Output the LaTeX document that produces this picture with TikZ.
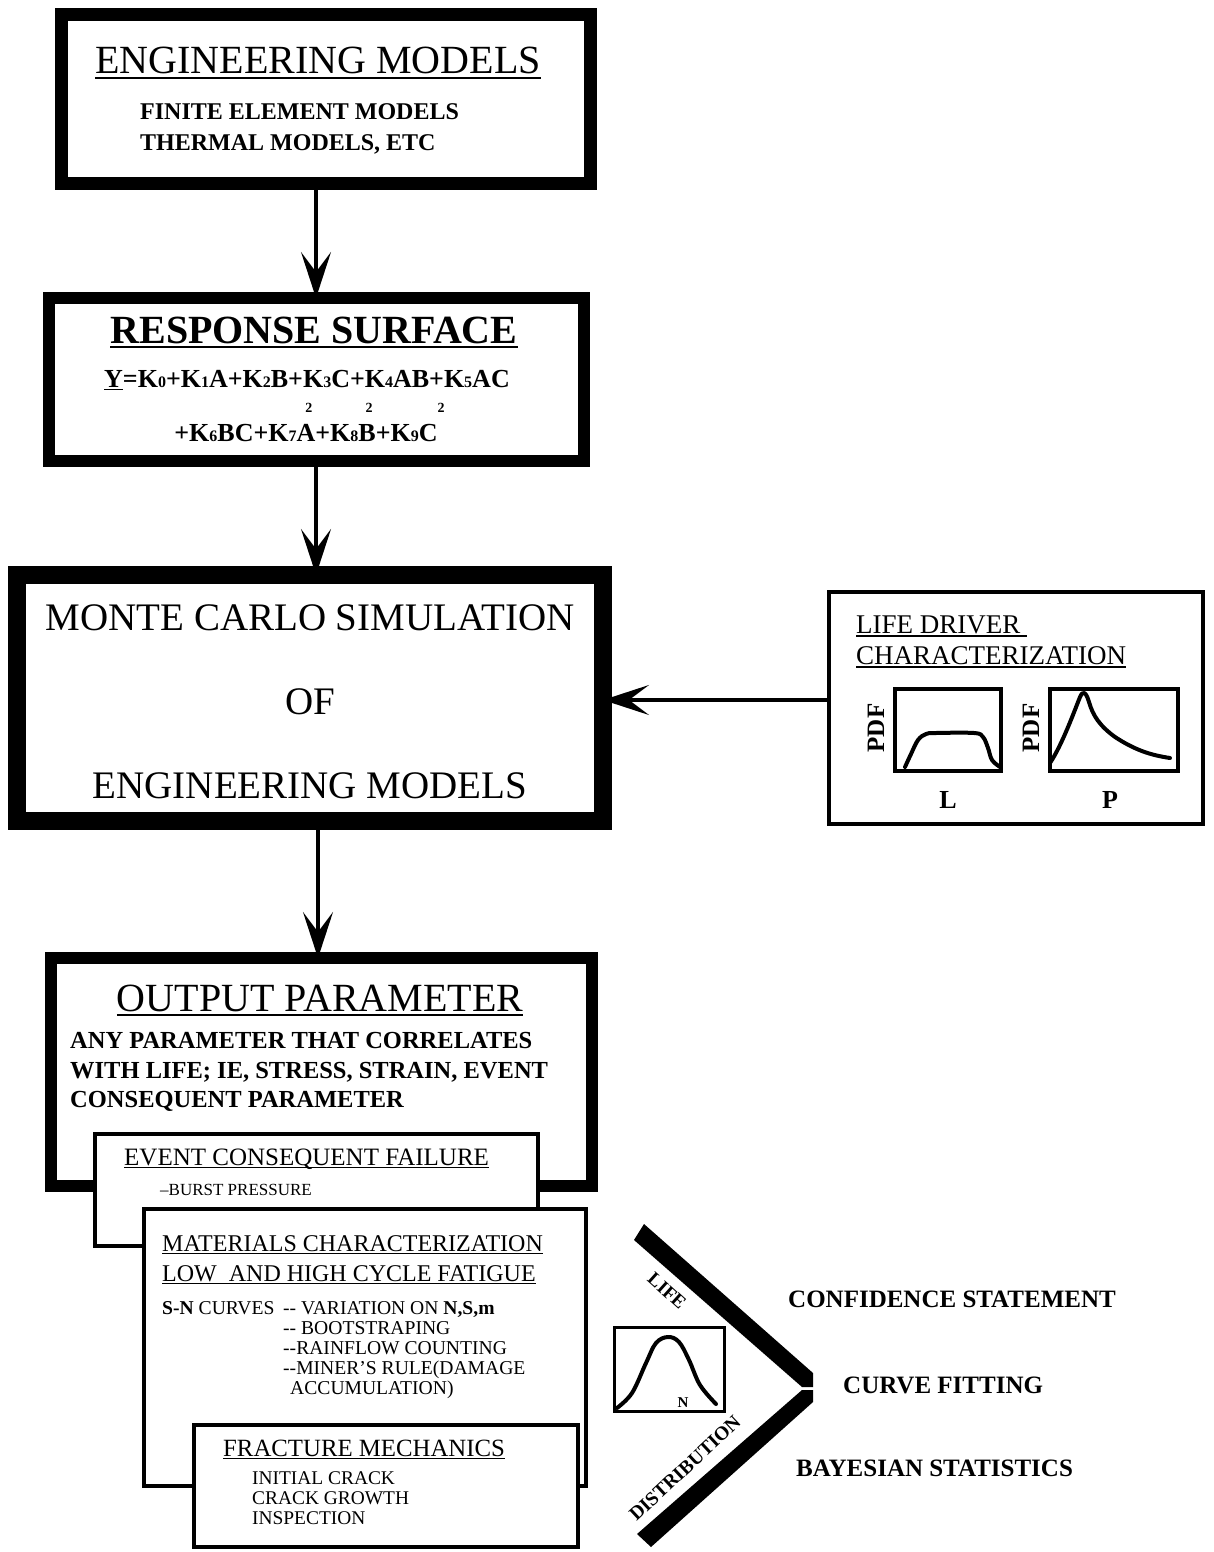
\documentclass[tikz,border=0pt]{standalone}
\usepackage{fontspec}
\setmainfont{Liberation Serif}
\usetikzlibrary{arrows.meta}
\newcommand\setfs[1]{\fontsize{#1}{#1}\selectfont}
\newcommand\ulin[1]{\setbox0\hbox{#1}\rlap{\rule[-0.13em]{\wd0}{0.055em}}\box0}
\newcommand\ksub[1]{{\fontsize{16}{16}\selectfont #1}}
\newcommand\sqa[1]{#1\llap{\raisebox{1.1em}{\fontsize{14}{14}\selectfont 2}\hspace{0.12em}}}
\newcommand\sqc[1]{#1\rlap{\raisebox{1.1em}{\fontsize{14}{14}\selectfont 2}}}
\tikzset{
  box/.style={draw, rectangle, fill=white, inner sep=0pt, outer sep=0pt},
  plotbox/.style={draw, rectangle, line width=4pt, inner sep=0pt, outer sep=0pt},
  txt/.style={inner sep=0pt, anchor=base west},
  ctxt/.style={inner sep=0pt, anchor=base},
  conn/.style={line width=4pt, -{Stealth[length=46pt,width=30pt,inset=20pt]}},
  curve/.style={line width=4pt, line cap=round, line join=round},
}
\begin{document}
\begin{tikzpicture}[x=1pt,y=-1pt]
\useasboundingbox (0,0) rectangle (1213,1552);

% ---- Engineering models
\node[box, line width=13pt, minimum width=529pt, minimum height=169pt] (b1) at (326,99) {};
\node[ctxt] (t1) at (318,74) {\setfs{40}\ulin{ENGINEERING MODELS}};
\node[txt] (t2) at (140,120) {\setfs{24}\bfseries FINITE ELEMENT MODELS};
\node[txt] (t3) at (140,150) {\setfs{24}\bfseries THERMAL MODELS, ETC};

% ---- Response surface
\node[box, line width=12pt, minimum width=535pt, minimum height=163pt] (b2) at (316.5,379.5) {};
\node[ctxt] (t4) at (314,343) {\setfs{40}\bfseries\ulin{RESPONSE SURFACE}};
\node[ctxt] (t5) at (307,387) {\setfs{26}\bfseries \ulin{Y}=K\ksub{0}+K\ksub{1}A+K\ksub{2}B+K\ksub{3}C+K\ksub{4}AB+K\ksub{5}AC};
\node[ctxt] (t6) at (306,441) {\setfs{26}\bfseries +K\ksub{6}BC+K\ksub{7}\sqa{A}+K\ksub{8}\sqa{B}+K\ksub{9}\sqc{C}};

% ---- Monte Carlo
\node[box, line width=18pt, minimum width=586pt, minimum height=246pt] (b3) at (310,698) {};
\node[ctxt] (t7) at (310,630) {\setfs{39}MONTE CARLO SIMULATION};
\node[ctxt] (t8) at (310,714) {\setfs{39}OF};
\node[ctxt] (t9) at (310,798) {\setfs{39}ENGINEERING MODELS};

% ---- Life driver characterization
\node[box, line width=4pt, minimum width=374pt, minimum height=232pt] (b4) at (1016,708) {};
\node[txt] (t10) at (856,633) {\setfs{27}\ulin{LIFE DRIVER\hspace{0.25em}}};
\node[txt] (t11) at (856,664) {\setfs{27}\ulin{CHARACTERIZATION}};
\node[plotbox, minimum width=106pt, minimum height=82pt] (p1) at (948,730) {};
\node[plotbox, minimum width=128pt, minimum height=82pt] (p2) at (1114,730) {};
\node[inner sep=0pt, rotate=90] (pdf1) at (876,728) {\setfs{25}\bfseries PDF};
\node[inner sep=0pt, rotate=90] (pdf2) at (1031,728) {\setfs{25}\bfseries PDF};
\node[inner sep=0pt] (lL) at (948,800) {\setfs{26}\bfseries L};
\node[inner sep=0pt] (lP) at (1110,800) {\setfs{26}\bfseries P};
\draw[curve] plot[smooth, tension=0.6] coordinates {(905,767) (911,754) (918,740) (926,734) (936,733) (974,733) (983,737) (988,748) (992,760) (1000,767)};
\draw[curve] (1050,763) .. controls (1062,745) and (1074,712) .. (1080,697)
  .. controls (1083,690) and (1086,692) .. (1089,702)
  .. controls (1093,716) and (1100,726) .. (1115,737)
  .. controls (1135,750) and (1150,755) .. (1170,758);

% ---- connectors
\coordinate (ax1) at (316,0);
\coordinate (ax2) at (318,0);
\coordinate (ly) at (0,700);
\draw[conn] (ax1 |- b1.south) -- (ax1 |- b2.north);
\draw[conn] (ax1 |- b2.south) -- (ax1 |- b3.north);
\draw[conn, line width=3.5pt] (b4.west |- ly) -- (b3.east |- ly);

% ---- Output parameter
\node[box, line width=12pt, minimum width=541pt, minimum height=228pt] (b5) at (321.5,1072) {};
\draw[conn] (ax2 |- b3.south) -- (ax2 |- b5.north);
\node[ctxt] (t12) at (320,1011) {\setfs{40}\ulin{OUTPUT PARAMETER}};
\node[txt] (t13) at (70,1048) {\setfs{24.5}\bfseries ANY PARAMETER THAT CORRELATES};
\node[txt] (t14) at (70,1078) {\setfs{24.5}\bfseries WITH LIFE; IE, STRESS, STRAIN, EVENT};
\node[txt] (t15) at (70,1107) {\setfs{24.5}\bfseries CONSEQUENT PARAMETER};

% ---- Event consequent failure
\node[box, line width=4pt, minimum width=443pt, minimum height=112pt] (b6) at (316.5,1190) {};
\node[txt] (t16) at (124,1165) {\setfs{25}\ulin{EVENT CONSEQUENT FAILURE}};
\node[txt] (t17) at (160,1195) {\setfs{17}--BURST PRESSURE};

% ---- Materials characterization
\node[box, line width=4pt, minimum width=442pt, minimum height=277pt] (b7) at (365,1347.5) {};
\node[txt] (t18) at (162,1251) {\setfs{24}\ulin{MATERIALS CHARACTERIZATION}};
\node[txt] (t19) at (162,1281) {\setfs{24}\ulin{LOW\ \ AND HIGH CYCLE FATIGUE}};
\node[txt] (t20) at (162,1314.5) {\setfs{19.6}{\bfseries S-N} CURVES};
\node[txt] (t21) at (283,1314.5) {\setfs{19.6}-{}- VARIATION ON {\bfseries N,S,m}};
\node[txt] (t22) at (283,1334.5) {\setfs{19.6}-{}- BOOTSTRAPING};
\node[txt] (t23) at (283,1354.5) {\setfs{19.6}-{}-RAINFLOW COUNTING};
\node[txt] (t24) at (283,1374.5) {\setfs{19.6}-{}-MINER'S RULE(DAMAGE};
\node[txt] (t25) at (290,1394.5) {\setfs{19.6}ACCUMULATION)};

% ---- Fracture mechanics
\node[box, line width=4pt, minimum width=384pt, minimum height=122pt] (b8) at (386,1486) {};
\node[txt] (t26) at (223,1456) {\setfs{24.8}\ulin{FRACTURE MECHANICS}};
\node[txt] (t27) at (252,1484) {\setfs{19.4}INITIAL CRACK};
\node[txt] (t28) at (252,1504) {\setfs{19.4}CRACK GROWTH};
\node[txt] (t29) at (252,1524) {\setfs{19.4}INSPECTION};

% ---- Life distribution chevron
\fill (644,1224) -- (813,1373) -- (813,1387) -- (802,1387) -- (634,1240) -- cycle;
\fill (802,1390) -- (813,1390) -- (813,1402) -- (651,1547) -- (637,1534) -- cycle;
\node[inner sep=0pt, rotate=-42] (lifel) at (667,1291) {\setfs{19}\bfseries LIFE};
\node[inner sep=0pt, rotate=43] (distl) at (685,1468) {\setfs{19.5}\bfseries DISTRIBUTION};
\node[draw, rectangle, line width=3pt, inner sep=0pt, minimum width=110pt, minimum height=84pt] (nbox) at (669.5,1369.5) {};
\draw[curve] plot[smooth, tension=0.6] coordinates {(617,1408) (632,1393) (646,1363) (656,1343) (668,1337) (679,1342) (689,1360) (700,1385) (716,1404)};
\node[inner sep=0pt] (nl) at (683,1403) {\setfs{15}\bfseries N};

% ---- right statements
\node[txt] (t30) at (788,1307) {\setfs{25}\bfseries CONFIDENCE STATEMENT};
\node[txt] (t31) at (843,1393) {\setfs{25}\bfseries CURVE FITTING};
\node[txt] (t32) at (796,1476) {\setfs{25}\bfseries BAYESIAN STATISTICS};
\end{tikzpicture}
\end{document}
